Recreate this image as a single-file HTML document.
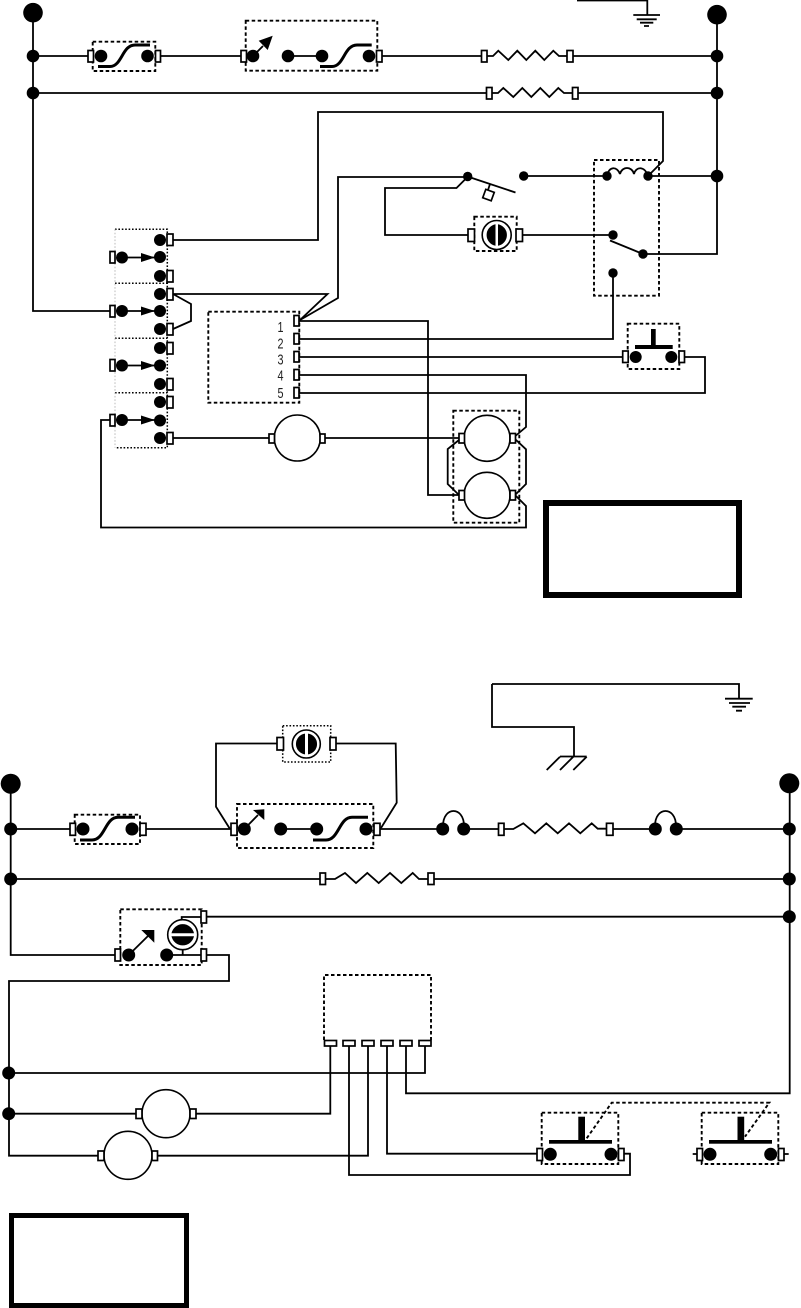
<!DOCTYPE html>
<html><head><meta charset="utf-8"><style>
html,body{margin:0;padding:0;background:#fff}
svg{display:block}
.w{fill:none;stroke:#000;stroke-width:1.8;stroke-linejoin:miter}
.t{fill:#fff;stroke:#000;stroke-width:1.7}
.s{fill:none;stroke:#000;stroke-width:3}
.d{fill:none;stroke:#000;stroke-width:1.9;stroke-dasharray:3.5 2.5}
.o{fill:none;stroke:#000;stroke-width:1.5;stroke-dasharray:1.6 1.8}
.m{fill:#fff;stroke:#000;stroke-width:1.6}
text{font-family:"Liberation Sans",sans-serif;font-size:15px;fill:#222}
</style></head><body>
<svg width="801" height="1308" viewBox="0 0 801 1308" xmlns="http://www.w3.org/2000/svg">
<rect width="801" height="1308" fill="#fff"/>

<!-- TOP DIAGRAM: wires -->
<path class="w" d="M33 13V311H110"/>
<path class="w" d="M33 56H88M160 56H241M288 56H322M382 56H482M487 56H493L498.3 50.7L508.3 60L517.3 50.7L526.3 60L535.3 50.7L544.3 60L553.3 50.7L559 56H567M573 56H717"/>
<path class="w" d="M33 93H487M492 93H498L503.3 88L513.3 97L522.3 88L531.3 97L540.3 88L549.3 97L558.3 88L564 93H573M578 93H717"/>
<path class="w" d="M717 14V254H643M523.5 176H607M648 176H717"/>
<path class="w" d="M173 240H318V112H663V161L648 176"/>
<path class="w" d="M607 176C609 166 617 166 620 174M620 174C622 166 632 166 634 174M634 174C636 166 645 166 648 176"/>
<path class="w" d="M300 320L338 298V177H467.5L456.5 188H385V235H468"/>
<path class="w" d="M467.5 176.5L515.5 192.5M490 184L488 190"/>
<rect class="t" x="484" y="190.5" width="9" height="9" transform="rotate(20 488.3 195)"/>
<path class="w" d="M522 235H613M610 240.5L643 254M613 273V339H299"/>
<path class="w" d="M173 294H327.5L300 320M173 294L191 304V321L173 329"/>
<path class="w" d="M173 438H269M325 438H459"/>
<path class="w" d="M299 321H428V495H459"/>
<path class="w" d="M299 357H623M684 357H705V393H299"/>
<path class="w" d="M299 375H526V427L513 438"/>
<path class="w" d="M459 440L447.7 449V484L459 495M515 439L526 449.3V484L515 495L526 506V527.5H101V420H110"/>
<path class="w" d="M577 .5H647.3V15M633.3 15H660M636.7 19.3H656.7M640 22.7H653.3M644 26H649"/>

<!-- top boxes -->
<rect class="d" x="92.7" y="41.7" width="62.6" height="29.3"/>
<rect class="d" x="245.7" y="20.7" width="131.6" height="50"/>
<rect class="d" x="594" y="160" width="65" height="135.7"/>
<rect class="d" x="474.3" y="216.7" width="42.4" height="34.3"/>
<rect class="d" x="208.3" y="311.7" width="91" height="91"/>
<rect class="d" x="627.7" y="323.7" width="51.6" height="45.3"/>
<rect class="d" x="453.3" y="410.7" width="66" height="112"/>
<path class="o" d="M115 229.3H167.3V447.7H115M115 283.3H167.3M115 338.3H167.3M115 392.7H167.3"/>
<path d="M115 229.3V447.7" fill="none" stroke="#bbb" stroke-width="1" stroke-dasharray="1.6 1.8"/>

<!-- top big dots & nodes -->
<g fill="#000">
<circle cx="33" cy="12.7" r="9.8"/><circle cx="717" cy="14.7" r="9.8"/>
<circle cx="33" cy="56" r="6.3"/><circle cx="33" cy="93" r="6.3"/>
<circle cx="717" cy="56" r="6.3"/><circle cx="717" cy="93" r="6.3"/><circle cx="717" cy="176" r="6.3"/>
<circle cx="101" cy="56" r="6.3"/><circle cx="147.5" cy="56" r="6.3"/>
<circle cx="253" cy="56" r="6.3"/><circle cx="288" cy="56" r="6.3"/><circle cx="322" cy="56" r="6.3"/><circle cx="369" cy="56" r="6.3"/>
<circle cx="467.7" cy="176.5" r="4.7"/><circle cx="523.7" cy="176" r="4.7"/><circle cx="607" cy="176" r="4.7"/><circle cx="648" cy="176" r="4.7"/>
<circle cx="613" cy="235" r="4.7"/><circle cx="643" cy="254" r="4.7"/><circle cx="613" cy="273" r="4.7"/>
<circle cx="160" cy="240" r="6"/><circle cx="160" cy="257" r="6"/><circle cx="160" cy="276" r="6"/><circle cx="160" cy="294" r="6"/><circle cx="160" cy="311" r="6"/><circle cx="160" cy="329" r="6"/><circle cx="160" cy="348" r="6"/><circle cx="160" cy="365.5" r="6"/><circle cx="160" cy="384" r="6"/><circle cx="160" cy="402" r="6"/><circle cx="160" cy="420.5" r="6"/><circle cx="160" cy="438" r="6"/>
<circle cx="122" cy="257.5" r="6"/><circle cx="122" cy="311" r="6"/><circle cx="122" cy="365.5" r="6"/><circle cx="122" cy="420" r="6"/>
<circle cx="635.7" cy="357" r="6"/><circle cx="671.3" cy="357" r="6"/>
<path d="M272.7 35.7L258.7 40.7L267.7 50Z"/>
<path d="M141 253L155 257.5L141 262ZM141 306.5L155 311L141 315.5ZM141 361L155 365.5L141 370ZM141 415.5L155 420L141 424.5Z"/>
<rect x="635" y="345" width="37.7" height="4"/><rect x="651" y="329" width="4.7" height="18"/>
</g>
<path class="w" d="M122 257.5H155M122 311H155M122 365.5H155M122 420H155M253 56L263 46"/>
<path class="s" d="M98 66.5H110C122 66.5 122 45 135 45H150"/>
<path class="s" d="M320 66.5H332C344 66.5 344 45 357 45H371.7"/>

<!-- top motors -->
<circle class="m" cx="496.7" cy="235" r="14.5"/>
<path fill="#000" d="M495.5 224.2A11 11 0 0 0 495.5 245.8ZM498 224.2A11 11 0 0 1 498 245.8Z"/>
<circle class="m" cx="297.3" cy="438" r="23"/>
<circle class="m" cx="487" cy="438.3" r="23"/>
<circle class="m" cx="487" cy="495.3" r="23"/>

<!-- top terminals -->
<rect class="t" x="88" y="50.5" width="5.5" height="11.5"/><rect class="t" x="155.5" y="50.5" width="5" height="11.5"/>
<rect class="t" x="241" y="50.5" width="5.5" height="11.5"/><rect class="t" x="376.5" y="50.5" width="5.5" height="11.5"/>
<rect class="t" x="481.5" y="50.5" width="5.5" height="11.5"/><rect class="t" x="567" y="50.5" width="6" height="11.5"/>
<rect class="t" x="486.5" y="87.5" width="5.5" height="11.5"/><rect class="t" x="572.5" y="87.5" width="5.5" height="11.5"/>
<rect class="t" x="468" y="229" width="6.5" height="12.5"/><rect class="t" x="516" y="229" width="6.5" height="12.5"/>
<rect class="t" x="167" y="234" width="6" height="11.5"/><rect class="t" x="167" y="270.5" width="6" height="11.5"/><rect class="t" x="167" y="288.5" width="6" height="11.5"/><rect class="t" x="167" y="323.5" width="6" height="11.5"/><rect class="t" x="167" y="342.5" width="6" height="11.5"/><rect class="t" x="167" y="378.5" width="6" height="11.5"/><rect class="t" x="167" y="396.5" width="6" height="11.5"/><rect class="t" x="167" y="432.5" width="6" height="11.5"/>
<rect class="t" x="110" y="251.5" width="5" height="11.5"/><rect class="t" x="110" y="305.5" width="5" height="11.5"/><rect class="t" x="110" y="359.5" width="5" height="11.5"/><rect class="t" x="110" y="414.5" width="5" height="11.5"/>
<rect class="t" x="294" y="315.5" width="5" height="10.5"/><rect class="t" x="294" y="333.5" width="5" height="10.5"/><rect class="t" x="294" y="351.5" width="5" height="10.5"/><rect class="t" x="294" y="369.5" width="5" height="10.5"/><rect class="t" x="294" y="387.5" width="5" height="10.5"/>
<rect class="t" x="622.7" y="351" width="5.5" height="11.5"/><rect class="t" x="679" y="351" width="5.5" height="11.5"/>
<rect class="t" x="269" y="434" width="5.5" height="9"/><rect class="t" x="320" y="434" width="5" height="9"/>
<rect class="t" x="459" y="433.5" width="5.5" height="9.5"/><rect class="t" x="510" y="433.5" width="5.5" height="9.5"/>
<rect class="t" x="459" y="490.5" width="5.5" height="9.5"/><rect class="t" x="510" y="490.5" width="5.5" height="9.5"/>

<text x="277.5" y="332" textLength="6" lengthAdjust="spacingAndGlyphs">1</text>
<text x="277.5" y="348.5" textLength="6" lengthAdjust="spacingAndGlyphs">2</text>
<text x="277.5" y="364.5" textLength="6" lengthAdjust="spacingAndGlyphs">3</text>
<text x="277.5" y="380.5" textLength="6" lengthAdjust="spacingAndGlyphs">4</text>
<text x="277.5" y="398" textLength="6" lengthAdjust="spacingAndGlyphs">5</text>

<rect x="546" y="503" width="193" height="92" fill="none" stroke="#000" stroke-width="6"/>

<!-- BOTTOM DIAGRAM: wires -->
<path class="w" d="M10.7 783V955H115"/>
<path class="w" d="M10.7 829H70M146 829H231M280.7 829H316.7M380 829H443M464 829H498.5M504 829H513.3L523.3 823.3L535 833.3L546.3 823.3L557.7 833.3L569 823.3L580.3 833.3L591.7 823.3L597.7 828.7H606.5M613 829H655M676 829H789"/>
<path class="w" d="M443 826C443 806 464 806 464 826M655 826C655 806 676 806 676 826"/>
<path class="w" d="M10.7 879H320M325.5 879H335L345 873L356 883L367.3 873L378.7 883L390 873L401.3 883L412.7 873L419 879H428M434 879H789"/>
<path class="w" d="M789.7 783V1093.3H406V1046"/>
<path class="w" d="M277 743.5H216V806.7L230 829M336 743.5H395.7L396.7 802.7L381 828"/>
<path class="w" d="M492 684H739V698.7M725 698.7H752.7M729 703H750M732.3 706.7H746M736 710.7H742M492 684V727H574V756.3M560 756.5H586.7M560 756.7L546.7 770M573.3 756.7L560 770M586.7 756.7L573.3 770"/>
<path class="w" d="M181.7 919V917H201M207 916.7H789M166.7 955H201M182.7 949V955M207 955H229V981H9V1155.7H98M128.7 955L148 936"/>
<path class="w" d="M9 1073H425V1046M9 1113.7H136M196 1113.7H330.3V1046M157.5 1155.7H368V1046M349 1046V1175H630V1153.7H624.5M387 1046V1153.7H537"/>
<path class="w" d="M692.7 1154H697M784 1154H788.7"/>

<!-- bottom boxes -->
<rect class="d" x="74.7" y="814.7" width="65.3" height="29.3"/>
<rect class="d" x="237" y="804" width="136.3" height="44"/>
<rect class="o" x="282.7" y="725.7" width="48" height="36.3"/>
<rect class="d" x="120.3" y="909.3" width="81.4" height="55.7"/>
<path class="d" d="M324 1040V975H431V1040"/>
<rect class="d" x="541.7" y="1112.7" width="76.6" height="51.3"/>
<rect class="d" x="701.7" y="1112.7" width="76.6" height="51.3"/>
<path class="d" d="M586.7 1138.3L611.7 1102.7H769.3L745 1136.7"/>

<g fill="#000">
<circle cx="10.7" cy="783.7" r="10"/><circle cx="789.3" cy="783.3" r="10"/>
<circle cx="10.7" cy="829" r="6.5"/><circle cx="10.7" cy="879" r="6.5"/>
<circle cx="789.3" cy="829" r="6.5"/><circle cx="789.3" cy="879" r="6.5"/><circle cx="789.3" cy="916.7" r="6.5"/>
<circle cx="83" cy="829" r="6.5"/><circle cx="132" cy="829" r="6.5"/>
<circle cx="244.3" cy="829" r="6.5"/><circle cx="280.7" cy="829" r="6.5"/><circle cx="316.7" cy="829" r="6.5"/><circle cx="366" cy="829" r="6.5"/>
<circle cx="442.7" cy="829" r="6.5"/><circle cx="463.7" cy="829" r="6.5"/><circle cx="655.3" cy="829" r="6.5"/><circle cx="676.3" cy="829" r="6.5"/>
<circle cx="128.7" cy="955" r="6.5"/><circle cx="166.7" cy="955" r="6.5"/>
<circle cx="8.7" cy="1073" r="6.5"/><circle cx="8.7" cy="1113.7" r="6.5"/>
<circle cx="550.3" cy="1154.3" r="6.5"/><circle cx="611" cy="1154.3" r="6.5"/><circle cx="710" cy="1154.3" r="6.5"/><circle cx="770.7" cy="1154.3" r="6.5"/>
<path d="M264.3 809.3L253 810L264.3 820Z"/>
<path d="M154.3 930L141.3 930L154.3 942.7Z"/>
<rect x="549" y="1140" width="63" height="3.7"/><rect x="578.3" y="1116.7" width="6.7" height="24"/>
<rect x="709" y="1140" width="63" height="3.7"/><rect x="737.5" y="1116.7" width="6.7" height="24"/>
</g>
<path class="w" d="M244.3 829L258 815"/>
<path class="s" d="M80 840H92C105 840 105 817.3 118 817.3H135"/>
<path class="s" d="M313 840H326C339 840 339 817.3 352 817.3H368"/>

<circle class="m" cx="306.3" cy="744" r="14"/>
<path fill="#000" d="M305 733.6A10.5 10.5 0 0 0 305 754.4ZM308 733.6A10.5 10.5 0 0 1 308 754.4Z"/>
<circle class="m" cx="182.7" cy="934.7" r="15"/>
<path fill="#000" d="M171.5 933.3A11.5 11.5 0 0 1 194 933.3ZM171.5 936.3A11.5 11.5 0 0 0 194 936.3Z"/>
<circle class="m" cx="166" cy="1113.7" r="24"/>
<circle class="m" cx="128" cy="1155.3" r="24"/>

<!-- bottom terminals -->
<rect class="t" x="70" y="823.3" width="5.5" height="12"/><rect class="t" x="140" y="823.3" width="6" height="12"/>
<rect class="t" x="231" y="823.3" width="6" height="12"/><rect class="t" x="374" y="823.3" width="6" height="12"/>
<rect class="t" x="498.5" y="823.3" width="5.5" height="12"/><rect class="t" x="606.5" y="823.3" width="6.5" height="12"/>
<rect class="t" x="320" y="873" width="5.5" height="11.5"/><rect class="t" x="428" y="873" width="6" height="11.5"/>
<rect class="t" x="277" y="737.5" width="6.5" height="12.5"/><rect class="t" x="330" y="737.5" width="6" height="12.5"/>
<rect class="t" x="115" y="949" width="5.5" height="12"/><rect class="t" x="201" y="911" width="5.5" height="12"/><rect class="t" x="201" y="949" width="5.5" height="12"/>
<rect class="t" x="324.5" y="1040.5" width="12" height="5.5"/><rect class="t" x="343" y="1040.5" width="12" height="5.5"/><rect class="t" x="362" y="1040.5" width="12" height="5.5"/><rect class="t" x="381" y="1040.5" width="12" height="5.5"/><rect class="t" x="400" y="1040.5" width="12" height="5.5"/><rect class="t" x="419" y="1040.5" width="12" height="5.5"/>
<rect class="t" x="136" y="1109" width="6" height="9.5"/><rect class="t" x="190" y="1109" width="6" height="9.5"/>
<rect class="t" x="98" y="1151" width="6" height="9.5"/><rect class="t" x="152" y="1151" width="5.5" height="9.5"/>
<rect class="t" x="537" y="1148.5" width="5.5" height="12"/><rect class="t" x="618.5" y="1148.5" width="5.5" height="12"/>
<rect class="t" x="697" y="1148.5" width="5.5" height="12"/><rect class="t" x="778.5" y="1148.5" width="5.5" height="12"/>

<rect x="11.5" y="1215.5" width="175" height="90" fill="none" stroke="#000" stroke-width="5"/>
</svg>
</body></html>
